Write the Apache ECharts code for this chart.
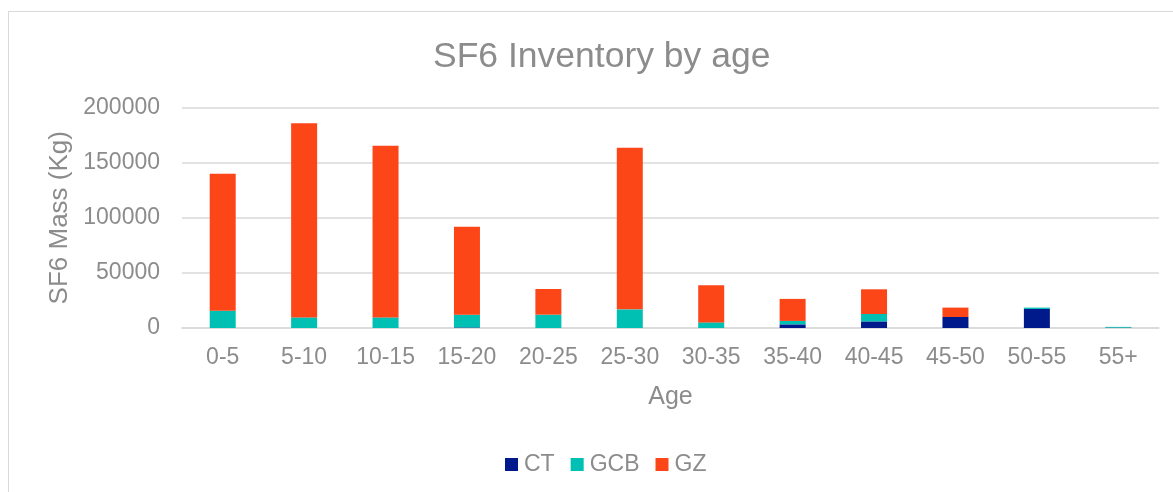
<!DOCTYPE html>
<html>
<head>
<meta charset="utf-8">
<script src="https://cdn.jsdelivr.net/npm/echarts@6/dist/echarts.min.js"></script>
<style>
html,body{margin:0;padding:0;background:#fff;overflow:hidden;}
#frame{position:absolute;left:8px;top:11px;width:1300px;height:700px;border:1px solid #d9d9d9;box-sizing:border-box;}
#chart{position:absolute;left:0;top:0;width:1173px;height:492px;}
</style>
</head>
<body>
<div id="frame"></div>
<div id="chart"></div>
<script>
const categories = ['0-5','5-10','10-15','15-20','20-25','25-30','30-35','35-40','40-45','45-50','50-55','55+'];
const ctValues  = [0, 0, 0, 500, 0, 0, 0, 3300, 6000, 10000, 17300, 300];
const gcbValues = [15700, 9600, 9600, 11600, 12100, 16900, 5100, 3100, 6700, 0, 1200, 700];
const gzValues  = [124300, 176200, 155800, 79800, 23300, 146600, 33600, 20000, 22400, 8500, 0, 0];
const yTicks = [0, 50000, 100000, 150000, 200000];

const textColor = '#8c8c8c';
const font = 'Liberation Sans, Arial, sans-serif';
const chart = echarts.init(document.getElementById('chart'));
chart.setOption({
  animation: false,
  textStyle: {fontFamily: font},
  title: {
    text: 'SF6 Inventory by age',
    left: 428,
    top: 34,
    textStyle: {color: textColor, fontSize: 35.5, fontWeight: 'normal', fontFamily: font}
  },
  grid: {left: 182, right: 14, top: 107.5, bottom: 164, containLabel: false},
  legend: {
    bottom: 11,
    left: 500,
    icon: 'rect',
    itemWidth: 13,
    itemHeight: 13,
    itemGap: 16,
    textStyle: {color: textColor, fontSize: 23, fontFamily: font, padding: [0,0,0,1]},
    data: ['CT','GCB','GZ']
  },
  xAxis: {
    type: 'category',
    data: categories,
    name: 'Age',
    nameLocation: 'middle',
    nameGap: 57,
    nameTextStyle: {color: textColor, fontSize: 25, fontFamily: font},
    axisTick: {show: false},
    axisLine: {lineStyle: {color: '#d9d9d9', width: 1.5}},
    axisLabel: {color: textColor, fontSize: 23, margin: 18, fontFamily: font}
  },
  yAxis: {
    type: 'value',
    min: yTicks[0],
    max: yTicks[yTicks.length-1],
    interval: yTicks[1]-yTicks[0],
    name: 'SF6 Mass (Kg)',
    nameLocation: 'middle',
    nameGap: 109,
    nameTextStyle: {color: textColor, fontSize: 26, fontFamily: font},
    axisLine: {show: false},
    axisTick: {show: false},
    splitLine: {lineStyle: {color: '#d9d9d9', width: 1.5}},
    axisLabel: {color: textColor, fontSize: 23, margin: 22, fontFamily: font, formatter: v => String(v)}
  },
  series: [
    {name: 'CT', type: 'bar', stack: 'a', data: ctValues, barWidth: 26, itemStyle: {color: '#001a8c'}},
    {name: 'GCB', type: 'bar', stack: 'a', data: gcbValues, barWidth: 26, itemStyle: {color: '#00bfb3'}},
    {name: 'GZ', type: 'bar', stack: 'a', data: gzValues, barWidth: 26, itemStyle: {color: '#fc4618'}}
  ]
});
</script>
</body>
</html>
